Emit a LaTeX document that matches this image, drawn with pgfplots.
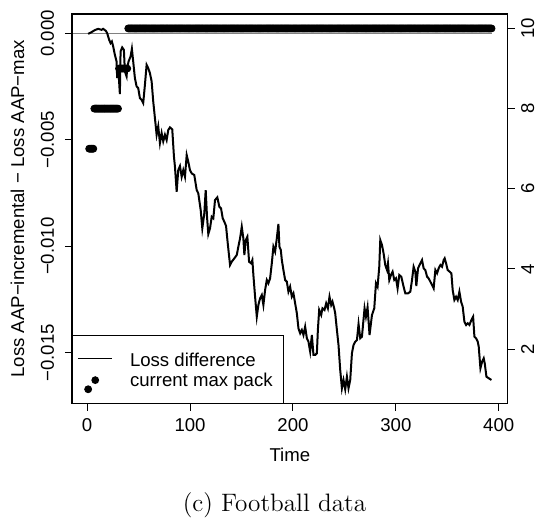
\documentclass[border=0pt]{standalone}
\usepackage{fontspec}
\usepackage{pgfplots}
\pgfplotsset{compat=1.18}
\newfontfamily\arial{Liberation Sans}
\newcommand{\rfont}{\arial\fontsize{9.3}{11}\selectfont}
\pgfplotsset{
  linelegend/.style={legend image code/.code={\path[draw=none,fill=none] (0pt,0pt) -- (0pt,6.825pt); \draw[##1] (0pt,1.4pt) -- (16.85pt,1.4pt);}},
  marklegend/.style={legend image code/.code={\path[draw=none,fill=none] (0pt,0pt) -- (16.85pt,0pt); \fill[black, draw=none] (8.425pt,0.9pt) circle[radius=1.95pt];}},
}

\pgfplotstableread{
x y
0.97 -0.000019
4.28 0.000061
7.49 0.000155
10.71 0.000216
14.01 0.000169
15.57 0.000216
18.2 0.000122
19.46 0.000014
21.41 -0.000301
22.77 -0.000456
24.04 -0.000376
25.3 -0.000610
26.96 -0.001005
28.61 -0.001315
29.2 -0.002099
30.17 -0.001550
31.82 -0.002850
32.51 -0.000845
34.06 -0.000657
35.72 -0.000770
36.69 -0.001784
38.35 -0.002019
38.93 -0.001630
40.29 -0.001315
42.24 -0.001080
43.5 -0.000723
44.77 -0.001315
46.42 -0.002099
48.08 -0.002489
49.64 -0.002569
51.29 -0.003038
52.94 -0.003118
54.5 -0.003273
56.16 -0.002414
57.81 -0.001475
59.37 -0.001630
61.02 -0.001864
62.68 -0.002254
64.23 -0.003193
65.89 -0.003978
67.54 -0.004762
69.1 -0.004367
70.75 -0.005151
72.41 -0.004682
73.97 -0.005072
75.62 -0.004762
77.27 -0.005011
78.83 -0.004541
80.49 -0.004414
82.73 -0.004508
84.38 -0.005795
85.35 -0.006264
87.01 -0.007439
88.56 -0.006420
90.22 -0.006232
91.87 -0.006734
93.43 -0.006420
95.09 -0.006734
96.74 -0.005715
98.3 -0.006030
99.95 -0.006420
101.6 -0.006574
104.14 -0.006654
106.47 -0.007359
108.03 -0.007514
110.36 -0.008298
111.92 -0.009157
113.87 -0.008453
115.23 -0.007359
116.5 -0.008613
117.76 -0.009425
119.42 -0.009157
121.07 -0.008613
122.63 -0.008688
124.28 -0.007828
126.52 -0.007701
128.47 -0.008143
130.12 -0.008218
131.78 -0.008688
133.33 -0.008847
134.99 -0.009049
136.64 -0.009862
138.88 -0.010881
140.53 -0.010726
143.07 -0.010566
145.4 -0.010411
146.96 -0.010021
148.61 -0.009627
150.27 -0.009082
151.82 -0.009627
152.8 -0.010411
154.16 -0.009707
155.72 -0.009552
157.37 -0.010726
159.32 -0.010801
160.58 -0.010646
161.56 -0.011350
163.21 -0.012369
164.87 -0.013309
166.42 -0.012759
168.08 -0.012444
169.73 -0.012289
171.29 -0.012759
172.94 -0.012055
174.6 -0.011585
176.16 -0.011740
177.81 -0.011505
179.46 -0.010801
181.02 -0.010021
182.68 -0.010256
184.33 -0.009627
185.89 -0.008955
186.86 -0.010021
188.22 -0.010176
189.2 -0.010646
190.75 -0.011116
192.41 -0.011585
194.06 -0.011665
195.62 -0.012135
197.27 -0.011900
198.93 -0.012369
200.49 -0.012210
202.14 -0.012679
203.8 -0.013149
205.35 -0.013853
207.01 -0.014088
208.66 -0.013933
210.22 -0.014168
211.87 -0.013778
213.53 -0.014323
215.09 -0.014482
216.74 -0.014952
218.39 -0.014168
219.95 -0.015107
221.61 -0.015107
223.26 -0.015027
224.23 -0.013933
225.5 -0.012994
227.45 -0.013229
228.71 -0.012914
230.66 -0.012994
232.31 -0.012679
233.97 -0.012914
235.52 -0.012369
237.18 -0.012759
238.44 -0.012604
240.1 -0.012914
241.07 -0.013149
242.73 -0.013933
244.28 -0.014638
245.94 -0.015812
247.59 -0.016671
249.15 -0.016281
250.8 -0.016718
252.46 -0.016126
254.01 -0.016671
255.67 -0.016281
257.32 -0.015027
258.88 -0.014638
260.54 -0.014482
262.19 -0.014403
263.75 -0.013651
265.4 -0.014323
267.06 -0.014248
269.59 -0.012914
270.95 -0.013309
272.51 -0.012867
274.45 -0.014168
276.79 -0.013229
279.03 -0.012914
280.68 -0.011740
282.24 -0.011900
283.89 -0.010961
284.87 -0.009707
286.52 -0.009941
288.08 -0.010331
289.73 -0.010881
291.39 -0.011116
292.36 -0.010801
293.63 -0.011585
295.28 -0.011350
296.84 -0.011195
298.49 -0.011585
300.15 -0.011505
301.7 -0.011975
303.36 -0.011350
305.3 -0.011430
307.54 -0.011900
309.2 -0.012210
311.82 -0.012210
314.06 -0.012135
315.72 -0.011585
317.27 -0.010961
318.93 -0.011195
319.9 -0.011867
321.56 -0.011036
323.8 -0.010801
325.45 -0.010646
327.01 -0.011036
328.66 -0.011116
330.32 -0.011430
331.87 -0.011505
333.53 -0.011665
335.18 -0.011820
336.74 -0.011975
338.39 -0.011116
340.05 -0.011270
341.61 -0.011036
343.26 -0.010881
344.91 -0.010961
346.47 -0.010646
347.45 -0.010566
348.81 -0.010801
350.36 -0.011116
352.31 -0.011195
353.97 -0.011270
355.23 -0.012055
356.89 -0.012524
358.54 -0.012369
360.1 -0.012524
361.75 -0.012135
363.41 -0.012604
364.96 -0.012839
366.62 -0.013543
368.27 -0.013698
369.83 -0.013618
371.48 -0.013698
373.43 -0.013463
375.09 -0.013309
376.35 -0.014248
378.0 -0.014323
379.56 -0.014482
380.54 -0.014717
382.19 -0.015732
383.84 -0.015422
385.4 -0.015262
386.37 -0.015497
388.03 -0.016126
390.27 -0.016201
392.9 -0.016281
}\lossdiff

\begin{document}
\begin{tikzpicture}
\begin{axis}[
  scale only axis, width=217.85pt, height=194.85pt,
  xmin=-14.7, xmax=408.7, ymin=-0.017396, ymax=0.000913,
  axis line style={line width=0.6pt},
  tick align=outside, major tick length=3.5pt,
  tick style={line width=0.5pt, black},
  xtick={0,100,200,300,400}, xtick pos=left,
  ytick={-0.015,-0.010,-0.005,0}, yticklabels={−0.015,−0.010,−0.005,0.000},
  ytick pos=left, scaled y ticks=false,
  /pgf/number format/assume math mode=true,
  ticklabel style={font=\rfont},
  xticklabel style={anchor=north, inner sep=0pt},
  xticklabel shift=3.8pt,
  yticklabel style={rotate=90, anchor=south, inner sep=0pt},
  yticklabel shift=5.25pt,
  xlabel={Time}, ylabel={Loss AAP−incremental − Loss AAP−max},
  label style={font=\rfont},
  xlabel style={at={(axis description cs:0.5,-0.1316)}, anchor=center, inner sep=0pt},
  ylabel style={at={(axis description cs:-0.1251,0.5)}, anchor=center, inner sep=0pt},
]
\addplot[black!50, line width=0.5pt] coordinates {(-14.7,0) (393,0)};
\addplot[black, line width=1pt] table[x=x, y=y] {\lossdiff};
\end{axis}
\begin{axis}[
  scale only axis, width=217.85pt, height=194.85pt,
  xmin=-14.7, xmax=408.7, ymin=0.64, ymax=10.36,
  hide x axis,
  axis line style={line width=0.6pt},
  tick align=outside, major tick length=3.5pt,
  tick style={line width=0.5pt, black},
  ytick={2,4,6,8,10}, ytick pos=right,
  /pgf/number format/assume math mode=true,
  ticklabel style={font=\rfont},
  yticklabel style={rotate=90, anchor=north, inner sep=0pt},
  yticklabel shift=3.05pt,
  legend style={at={(axis description cs:0,0)}, anchor=south west, draw=black, fill=none, line width=0.5pt,
    font=\rfont, inner xsep=2.65pt, inner ysep=6.25pt, row sep=1.55pt, column sep=8.65pt,
    nodes={inner sep=0pt, text height=6.8pt, text depth=1.95pt}},
  legend cell align=left,
]
\addlegendimage{black, line width=0.6pt, linelegend}
\addlegendentry{Loss difference}
\addplot[black, only marks, mark=*, mark size=1.75pt, marklegend]
coordinates {
(1,1)
(2,7)(3,7)(4,7)(5,7)(6,7)
(7,8)(8,8)(9,8)(10,8)(11,8)(12,8)(13,8)(14,8)(15,8)(16,8)(17,8)(18,8)(19,8)(20,8)(21,8)(22,8)(23,8)(24,8)(25,8)(26,8)(27,8)(28,8)(29,8)(30,8)
(31,9)(32,9)(33,9)(34,9)(35,9)(36,9)(37,9)(38,9)(39,9)
(40,10)(41,10)(42,10)(43,10)(44,10)(45,10)(46,10)(47,10)(48,10)(49,10)
(50,10)(51,10)(52,10)(53,10)(54,10)(55,10)(56,10)(57,10)(58,10)(59,10)
(60,10)(61,10)(62,10)(63,10)(64,10)(65,10)(66,10)(67,10)(68,10)(69,10)
(70,10)(71,10)(72,10)(73,10)(74,10)(75,10)(76,10)(77,10)(78,10)(79,10)
(80,10)(81,10)(82,10)(83,10)(84,10)(85,10)(86,10)(87,10)(88,10)(89,10)
(90,10)(91,10)(92,10)(93,10)(94,10)(95,10)(96,10)(97,10)(98,10)(99,10)
(100,10)(101,10)(102,10)(103,10)(104,10)(105,10)(106,10)(107,10)(108,10)(109,10)
(110,10)(111,10)(112,10)(113,10)(114,10)(115,10)(116,10)(117,10)(118,10)(119,10)
(120,10)(121,10)(122,10)(123,10)(124,10)(125,10)(126,10)(127,10)(128,10)(129,10)
(130,10)(131,10)(132,10)(133,10)(134,10)(135,10)(136,10)(137,10)(138,10)(139,10)
(140,10)(141,10)(142,10)(143,10)(144,10)(145,10)(146,10)(147,10)(148,10)(149,10)
(150,10)(151,10)(152,10)(153,10)(154,10)(155,10)(156,10)(157,10)(158,10)(159,10)
(160,10)(161,10)(162,10)(163,10)(164,10)(165,10)(166,10)(167,10)(168,10)(169,10)
(170,10)(171,10)(172,10)(173,10)(174,10)(175,10)(176,10)(177,10)(178,10)(179,10)
(180,10)(181,10)(182,10)(183,10)(184,10)(185,10)(186,10)(187,10)(188,10)(189,10)
(190,10)(191,10)(192,10)(193,10)(194,10)(195,10)(196,10)(197,10)(198,10)(199,10)
(200,10)(201,10)(202,10)(203,10)(204,10)(205,10)(206,10)(207,10)(208,10)(209,10)
(210,10)(211,10)(212,10)(213,10)(214,10)(215,10)(216,10)(217,10)(218,10)(219,10)
(220,10)(221,10)(222,10)(223,10)(224,10)(225,10)(226,10)(227,10)(228,10)(229,10)
(230,10)(231,10)(232,10)(233,10)(234,10)(235,10)(236,10)(237,10)(238,10)(239,10)
(240,10)(241,10)(242,10)(243,10)(244,10)(245,10)(246,10)(247,10)(248,10)(249,10)
(250,10)(251,10)(252,10)(253,10)(254,10)(255,10)(256,10)(257,10)(258,10)(259,10)
(260,10)(261,10)(262,10)(263,10)(264,10)(265,10)(266,10)(267,10)(268,10)(269,10)
(270,10)(271,10)(272,10)(273,10)(274,10)(275,10)(276,10)(277,10)(278,10)(279,10)
(280,10)(281,10)(282,10)(283,10)(284,10)(285,10)(286,10)(287,10)(288,10)(289,10)
(290,10)(291,10)(292,10)(293,10)(294,10)(295,10)(296,10)(297,10)(298,10)(299,10)
(300,10)(301,10)(302,10)(303,10)(304,10)(305,10)(306,10)(307,10)(308,10)(309,10)
(310,10)(311,10)(312,10)(313,10)(314,10)(315,10)(316,10)(317,10)(318,10)(319,10)
(320,10)(321,10)(322,10)(323,10)(324,10)(325,10)(326,10)(327,10)(328,10)(329,10)
(330,10)(331,10)(332,10)(333,10)(334,10)(335,10)(336,10)(337,10)(338,10)(339,10)
(340,10)(341,10)(342,10)(343,10)(344,10)(345,10)(346,10)(347,10)(348,10)(349,10)
(350,10)(351,10)(352,10)(353,10)(354,10)(355,10)(356,10)(357,10)(358,10)(359,10)
(360,10)(361,10)(362,10)(363,10)(364,10)(365,10)(366,10)(367,10)(368,10)(369,10)
(370,10)(371,10)(372,10)(373,10)(374,10)(375,10)(376,10)(377,10)(378,10)(379,10)
(380,10)(381,10)(382,10)(383,10)(384,10)(385,10)(386,10)(387,10)(388,10)(389,10)
(390,10)(391,10)(392,10)(393,10)
};
\addlegendentry{current max pack\hspace*{2.75pt}}
\end{axis}
\node[anchor=base, font=\fontsize{12.6}{14}\selectfont] at (101.25pt,-54.1pt) {(c) Football data};
\pgfresetboundingbox
\path[use as bounding box] (-36pt,-57.15pt) rectangle (234pt,201.85pt);
\end{tikzpicture}
\end{document}
